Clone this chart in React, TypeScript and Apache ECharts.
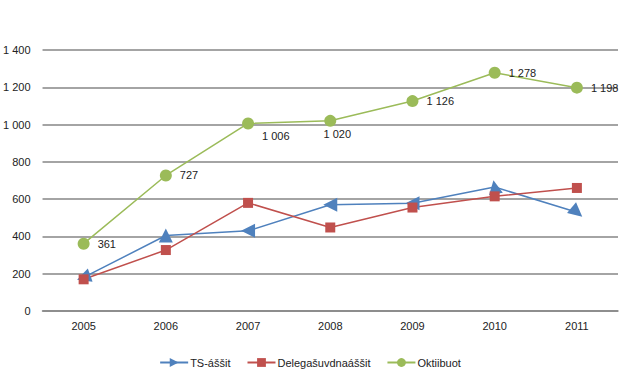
import React, { useEffect, useRef } from "react";
import * as echarts from "echarts";

const years = ["2005", "2006", "2007", "2008", "2009", "2010", "2011"];
const tsAssit = [180, 405, 430, 570, 578, 665, 530];
const tsRotate = [110, 0, 90, 90, 90, 10, -130];
const delegasuvdna = [170, 327, 580, 448, 555, 615, 660];
const oktiibuot = [361, 727, 1006, 1020, 1126, 1278, 1198];
const yTicks = [0, 200, 400, 600, 800, 1000, 1200, 1400];

const fmt = (v: number) => String(v).replace(/\B(?=(\d{3})+(?!\d))/g, " ");

export default function App() {
  const ref = useRef<HTMLDivElement>(null);
  useEffect(() => {
    const chart = echarts.init(ref.current!, null, { renderer: "svg" });
    const font = "Liberation Sans, Arial, sans-serif";
    const baseLabel = {
      show: true,
      position: "right",
      distance: 8,
      color: "#222",
      fontSize: 11,
      fontFamily: font,
      formatter: (p: any) => fmt(p.value),
    };
    const labelOverrides: Record<number, any> = {
      2: { position: "right", offset: [0, 13] },
      3: { position: "bottom", distance: 2, offset: [7, 0] },
    };
    chart.setOption({
      animation: false,
      textStyle: { fontFamily: font },
      grid: { left: 36, right: 2, top: 50, bottom: 74 },
      xAxis: {
        type: "category",
        data: years,
        boundaryGap: true,
        axisLine: { lineStyle: { color: "#868686", width: 1.5 } },
        axisTick: { show: false },
        axisLabel: { color: "#222", fontSize: 11, margin: 9, fontFamily: font },
      },
      yAxis: {
        type: "value",
        min: yTicks[0],
        max: yTicks[yTicks.length - 1],
        interval: 200,
        axisLine: { show: false },
        axisTick: { show: false },
        splitLine: { lineStyle: { color: "#868686", width: 1.5 } },
        axisLabel: { color: "#222", fontSize: 11, margin: 12, fontFamily: font, formatter: (v: number) => fmt(v) },
      },
      legend: {
        bottom: 12,
        left: "center",
        itemWidth: 28,
        itemHeight: 11,
        itemGap: 16,
        symbolRotate: -90,
        textStyle: { color: "#222", fontSize: 11, fontFamily: font, padding: [0, 0, 0, -3] },
        data: ["TS-áššit", "Delegašuvdnaáššit", "Oktiibuot"],
      },
      series: [
        {
          name: "TS-áššit",
          type: "line",
          symbol: "triangle",
          symbolSize: 14,
          symbolRotate: -90,
          data: tsAssit.map((v, i) => ({ value: v, symbolRotate: tsRotate[i] })),
          lineStyle: { color: "#4F81BD", width: 1.5 },
          itemStyle: { color: "#4F81BD" },
        },
        {
          name: "Delegašuvdnaáššit",
          type: "line",
          symbol: "rect",
          symbolSize: 10,
          data: delegasuvdna,
          lineStyle: { color: "#C0504D", width: 1.5 },
          itemStyle: { color: "#C0504D" },
        },
        {
          name: "Oktiibuot",
          type: "line",
          symbol: "circle",
          symbolSize: 12,
          data: oktiibuot.map((v, i) =>
            labelOverrides[i] ? { value: v, label: labelOverrides[i] } : v
          ),
          lineStyle: { color: "#9BBB59", width: 1.5 },
          itemStyle: { color: "#9BBB59" },
          label: baseLabel,
        },
      ],
    });
    return () => chart.dispose();
  }, []);
  return <div ref={ref} style={{ width: 620, height: 385, position: "absolute", left: 0, top: 0 }} />;
}
